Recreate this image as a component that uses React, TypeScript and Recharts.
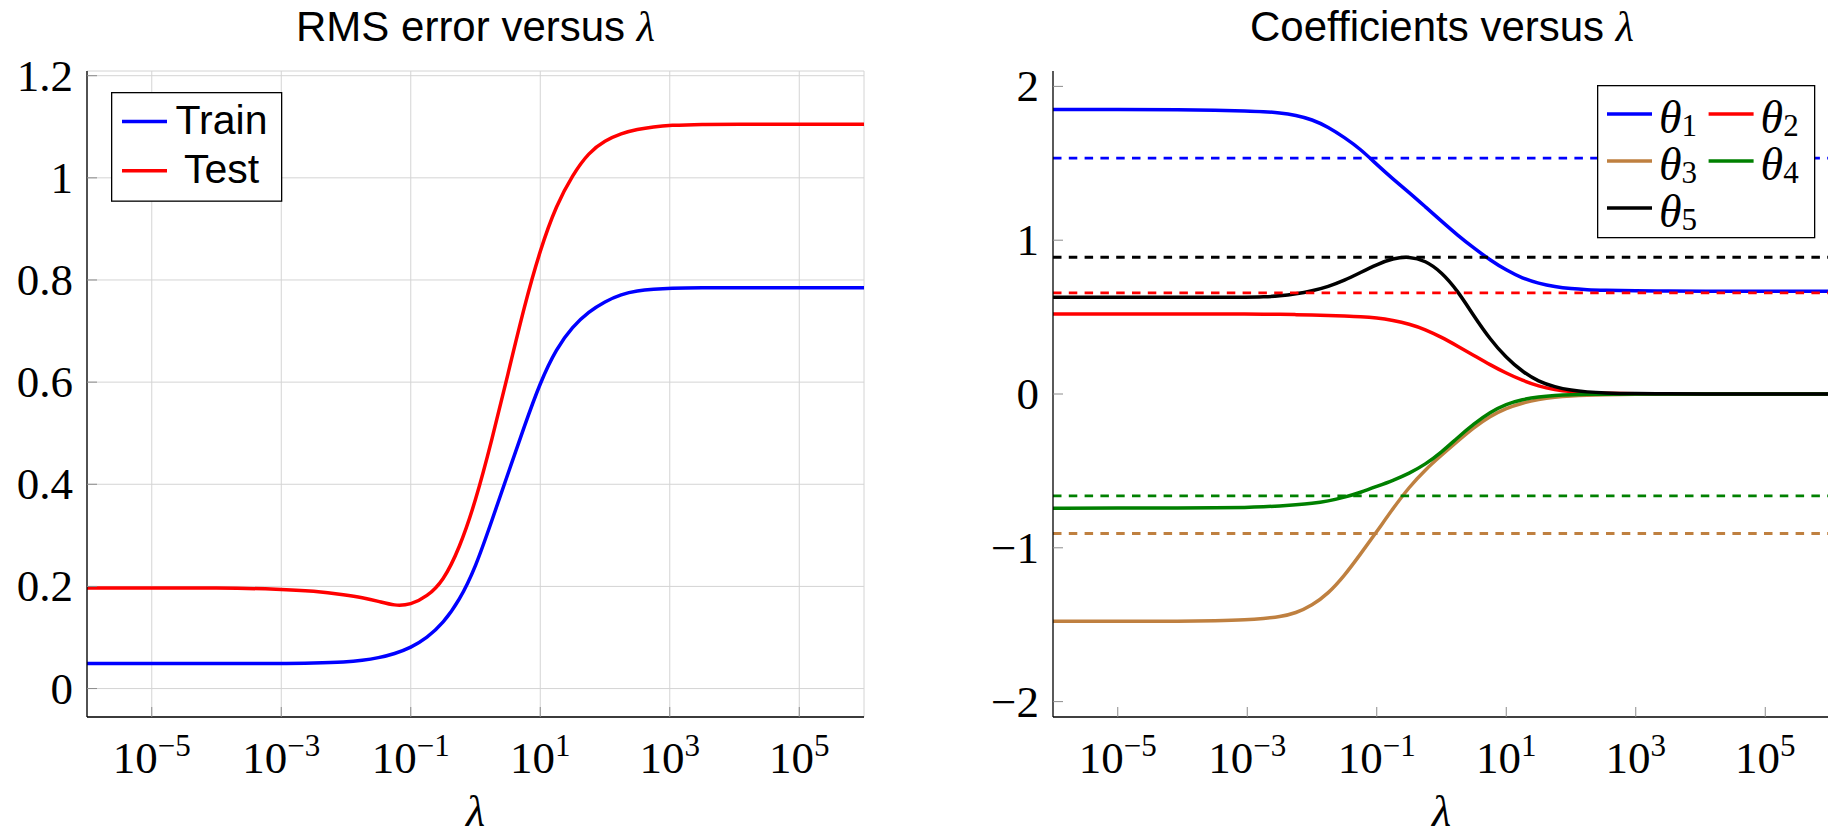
import React from 'react';
import { LineChart, Line, XAxis, YAxis, CartesianGrid, ReferenceLine, Legend, Label } from 'recharts';

// ---------- data: RMS error versus lambda (x = log10 lambda) ----------
const rmsLambdaExp = [-6, -5, -4, -3, -2.5, -2, -1.75, -1.5, -1.25, -1, -0.75, -0.5, -0.25, 0, 0.25, 0.5, 0.75, 1, 1.25, 1.5, 1.75, 2, 2.25, 2.5, 2.75, 3, 3.5, 4, 5, 6];
const trainRms = [0.049, 0.049, 0.049, 0.049, 0.05, 0.052, 0.055, 0.06, 0.068, 0.08, 0.099, 0.128, 0.172, 0.237, 0.328, 0.42, 0.512, 0.6, 0.666, 0.709, 0.738, 0.758, 0.772, 0.779, 0.782, 0.784, 0.785, 0.785, 0.785, 0.785];
const testRms = [0.197, 0.197, 0.197, 0.195, 0.191, 0.183, 0.178, 0.171, 0.162, 0.164, 0.18, 0.21, 0.274, 0.366, 0.485, 0.615, 0.747, 0.86, 0.947, 1.006, 1.05, 1.073, 1.087, 1.095, 1.1, 1.103, 1.105, 1.105, 1.105, 1.105];

// ---------- data: coefficients versus lambda (x = log10 lambda) ----------
const coefLambdaExp = [-6, -5, -4, -3.5, -3, -2.75, -2.5, -2.25, -2, -1.75, -1.5, -1.25, -1, -0.75, -0.5, -0.25, 0, 0.25, 0.5, 0.75, 1, 1.25, 1.5, 1.75, 2, 2.25, 2.5, 3, 3.5, 4, 5, 6];
const theta1 = [1.85, 1.85, 1.849, 1.846, 1.84, 1.836, 1.829, 1.813, 1.785, 1.736, 1.668, 1.592, 1.492, 1.398, 1.31, 1.217, 1.124, 1.032, 0.949, 0.871, 0.805, 0.752, 0.719, 0.697, 0.684, 0.678, 0.675, 0.671, 0.669, 0.668, 0.668, 0.668];
const theta2 = [0.52, 0.52, 0.52, 0.52, 0.52, 0.519, 0.518, 0.516, 0.514, 0.511, 0.507, 0.503, 0.495, 0.479, 0.456, 0.42, 0.369, 0.311, 0.251, 0.19, 0.135, 0.088, 0.05, 0.028, 0.015, 0.008, 0.004, 0.001, 0, 0, 0, 0];
const theta3 = [-1.478, -1.478, -1.477, -1.474, -1.468, -1.46, -1.449, -1.425, -1.375, -1.298, -1.182, -1.04, -0.895, -0.745, -0.605, -0.492, -0.398, -0.307, -0.218, -0.145, -0.092, -0.058, -0.035, -0.021, -0.013, -0.008, -0.005, -0.002, -0.001, 0, 0, 0];
const theta4 = [-0.742, -0.742, -0.741, -0.74, -0.738, -0.734, -0.728, -0.721, -0.712, -0.696, -0.672, -0.64, -0.601, -0.562, -0.516, -0.458, -0.379, -0.283, -0.194, -0.118, -0.065, -0.035, -0.018, -0.009, -0.004, -0.002, -0.001, 0, 0, 0, 0, 0];
const theta5 = [0.629, 0.629, 0.629, 0.629, 0.629, 0.631, 0.637, 0.65, 0.67, 0.698, 0.738, 0.79, 0.842, 0.882, 0.894, 0.868, 0.793, 0.671, 0.507, 0.356, 0.235, 0.145, 0.081, 0.046, 0.024, 0.013, 0.007, 0.002, 0.001, 0, 0, 0];
// dashed horizontal reference levels (one per coefficient)
const referenceCoefs = [1.533, 0.657, -0.907, -0.662, 0.889];

// ---------- axes ----------
const xTicks = [1e-5, 1e-3, 1e-1, 1e1, 1e3, 1e5];
const xDomain = [1e-6, 1e6];
const rmsTicks = [0, 0.2, 0.4, 0.6, 0.8, 1, 1.2];
const rmsDomain = [-0.0557, 1.2092];
const coefTicks = [-2, -1, 0, 1, 2];
const coefDomain = [-2.1, 2.1];

const rmsNames = ['Train', 'Test'];
const thetaNames = ['θ1', 'θ2', 'θ3', 'θ4', 'θ5'];
const thetaColors = ['#0000ff', '#ff0000', '#bf8040', '#008000', '#000000'];
const thetaKeys = ['t1', 't2', 't3', 't4', 't5'];
const thetaSeries = [theta1, theta2, theta3, theta4, theta5];

const rmsData = rmsLambdaExp.map((e, i) => ({ lambda: Math.pow(10, e), train: trainRms[i], test: testRms[i] }));
const coefData = coefLambdaExp.map((e, i) => {
  const row: any = { lambda: Math.pow(10, e) };
  thetaKeys.forEach((k, j) => { row[k] = thetaSeries[j][i]; });
  return row;
});

const SERIF = "'Liberation Serif', 'Times New Roman', serif";
const SANS = "'Liberation Sans', Arial, Helvetica, sans-serif";
const TICK_COLOR = '#8c8c8c';
const LINE_W = 3.5;
const CURVE = 'basis';

const BottomLogTick = (props: any) => {
  const { x, y, payload } = props;
  const exp = Math.round(Math.log10(payload.value));
  const sup = exp < 0 ? '\u2212' + Math.abs(exp) : String(exp);
  return (
    <g>
      <line x1={x} x2={x} y1={y} y2={y - 10} stroke={TICK_COLOR} strokeWidth={1} />
      <text x={x} y={y + 56} textAnchor="middle" fontFamily={SERIF} fontSize={45} fill="#000">
        10<tspan dy={-17} fontSize={31}>{sup}</tspan>
      </text>
    </g>
  );
};

const TopTick = (props: any) => {
  const { x, y } = props;
  return <line x1={x} x2={x} y1={y} y2={y + 10} stroke={TICK_COLOR} strokeWidth={1} />;
};

const RightTick = (props: any) => {
  const { x, y } = props;
  return <line x1={x} x2={x - 10} y1={y} y2={y} stroke={TICK_COLOR} strokeWidth={1} />;
};

const makeLeftTick = (fmt: (v: number) => string) => (props: any) => {
  const { x, y, payload } = props;
  return (
    <g>
      <line x1={x} x2={x + 10} y1={y} y2={y} stroke={TICK_COLOR} strokeWidth={1} />
      <text x={x - 14} y={y + 15} textAnchor="end" fontFamily={SERIF} fontSize={45} fill="#000">
        {fmt(payload.value)}
      </text>
    </g>
  );
};

const rmsFmt = (v: number) => String(Math.round(v * 10) / 10);
const coefFmt = (v: number) => (v < 0 ? '\u2212' + Math.abs(v) : String(v));

const LambdaLabel = (props: any) => {
  const vb = props.viewBox || {};
  return (
    <text x={vb.x + vb.width / 2} y={vb.y + 109} textAnchor="middle" fontFamily={SERIF} fontStyle="italic" fontSize={44} fill="#000">
      λ
    </text>
  );
};

const RmsLegend = (props: any) => {
  const items = props.payload || [];
  return (
    <svg width={172} height={110} style={{ display: 'block' }}>
      <rect x={0.65} y={0.65} width={170} height={108.5} fill="#fff" stroke="#000" strokeWidth={1.3} />
      {items.map((it: any, i: number) => (
        <g key={i}>
          <line x1={11} x2={56} y1={29.5 + i * 49.3} y2={29.5 + i * 49.3} stroke={it.color} strokeWidth={LINE_W} />
          <text x={110.5} y={41.8 + i * 49.3} textAnchor="middle" fontFamily={SANS} fontSize={41} fill="#000">
            {it.value}
          </text>
        </g>
      ))}
    </svg>
  );
};

const CoefLegend = (props: any) => {
  const items = props.payload || [];
  return (
    <svg width={219} height={154} style={{ display: 'block' }}>
      <rect x={0.65} y={0.65} width={217} height={152} fill="#fff" stroke="#000" strokeWidth={1.3} />
      {items.map((it: any, i: number) => {
        const col = i % 2;
        const row = Math.floor(i / 2);
        const lx = 10 + col * 101.6;
        const ly = 29 + row * 47;
        const name = String(it.value);
        return (
          <g key={i}>
            <line x1={lx} x2={lx + 45} y1={ly} y2={ly} stroke={it.color} strokeWidth={LINE_W} />
            <text x={lx + 52} y={ly + 18.5} fontFamily={SERIF} fontSize={46} fill="#000">
              <tspan fontStyle="italic">{name.slice(0, 1)}</tspan>
              <tspan fontSize={31} dy={3}>{name.slice(1)}</tspan>
            </text>
          </g>
        );
      })}
    </svg>
  );
};

const CHART_W = 900;
const CHART_H = 836;
const MARGIN = { top: 71, right: 36, bottom: 0, left: 0 };

const axisLineStyle = { stroke: '#000', strokeWidth: 1.3 };

function renderAxes(yDomain: number[], yTicks: number[], fmt: (v: number) => string) {
  return [
    <XAxis
      key="xb"
      dataKey="lambda"
      type="number"
      scale="log"
      domain={xDomain}
      ticks={xTicks}
      interval={0}
      allowDataOverflow
      height={119}
      tickLine={false}
      tickSize={0}
      tickMargin={0}
      axisLine={axisLineStyle}
      tick={<BottomLogTick />}
      label={<Label content={<LambdaLabel />} />}
    />,
    <XAxis
      key="xt"
      xAxisId="top"
      orientation="top"
      dataKey="lambda"
      type="number"
      scale="log"
      domain={xDomain}
      ticks={xTicks}
      interval={0}
      allowDataOverflow
      height={0}
      tickLine={false}
      tickSize={0}
      tickMargin={0}
      axisLine={axisLineStyle}
      tick={<TopTick />}
    />,
    <YAxis
      key="yl"
      type="number"
      domain={yDomain}
      ticks={yTicks}
      interval={0}
      allowDataOverflow
      width={87}
      tickLine={false}
      tickSize={0}
      tickMargin={0}
      axisLine={axisLineStyle}
      tick={makeLeftTick(fmt)}
    />,
    <YAxis
      key="yr"
      yAxisId="right"
      orientation="right"
      type="number"
      domain={yDomain}
      ticks={yTicks}
      interval={0}
      allowDataOverflow
      width={0}
      tickLine={false}
      tickSize={0}
      tickMargin={0}
      axisLine={axisLineStyle}
      tick={<RightTick />}
    />,
  ];
}

function RmsChart() {
  return (
    <LineChart width={CHART_W} height={CHART_H} data={rmsData} margin={MARGIN}>
      <CartesianGrid stroke="#d4d4d4" strokeWidth={1} />
      {renderAxes(rmsDomain, rmsTicks, rmsFmt)}
      <Line type={CURVE} dataKey="train" name={rmsNames[0]} stroke="#0000ff" strokeWidth={LINE_W} dot={false} activeDot={false} isAnimationActive={false} />
      <Line type={CURVE} dataKey="test" name={rmsNames[1]} stroke="#ff0000" strokeWidth={LINE_W} dot={false} activeDot={false} isAnimationActive={false} />
      <Legend
        layout="vertical"
        align="center"
        verticalAlign="middle"
        itemSorter={(item: any) => rmsNames.indexOf(String(item.value))}
        content={<RmsLegend />}
        wrapperStyle={{ position: 'absolute', left: 110.5, top: 91.5, width: 172, height: 110 }}
      />
    </LineChart>
  );
}

function CoefChart() {
  return (
    <LineChart width={CHART_W} height={CHART_H} data={coefData} margin={MARGIN}>
      {renderAxes(coefDomain, coefTicks, coefFmt)}
      {thetaKeys.map((k, j) => (
        <Line
          key={k}
          type={CURVE}
          dataKey={k}
          name={thetaNames[j]}
          stroke={thetaColors[j]}
          strokeWidth={LINE_W}
          dot={false}
          activeDot={false}
          isAnimationActive={false}
        />
      ))}
      {referenceCoefs.map((v, j) => (
        <ReferenceLine key={'r' + j} y={v} stroke={thetaColors[j]} strokeWidth={2.8} strokeDasharray="8.5 7.3" />
      ))}
      <Legend
        layout="vertical"
        align="center"
        verticalAlign="middle"
        itemSorter={(item: any) => thetaNames.indexOf(String(item.value))}
        content={<CoefLegend />}
        wrapperStyle={{ position: 'absolute', left: 630.5, top: 84.5, width: 219, height: 154 }}
      />
    </LineChart>
  );
}

export default function App() {
  return (
    <div style={{ position: 'fixed', left: 0, top: 0, width: 1828, height: 836, overflow: 'hidden', background: '#fff' }}>
      <div style={{ position: 'absolute', left: 0, top: 0 }}>
        <RmsChart />
      </div>
      <div style={{ position: 'absolute', left: 966, top: 0 }}>
        <CoefChart />
      </div>
      <svg width={1828} height={836} style={{ position: 'absolute', left: 0, top: 0, pointerEvents: 'none' }}>
        <text x={475.5} y={41} textAnchor="middle" fontFamily={SANS} fontSize={42} fill="#000">
          RMS error versus <tspan fontFamily={SERIF} fontStyle="italic" fontSize={42}>λ</tspan>
        </text>
        <text x={1442} y={41} textAnchor="middle" fontFamily={SANS} fontSize={42} fill="#000">
          Coefficients versus <tspan fontFamily={SERIF} fontStyle="italic" fontSize={42}>λ</tspan>
        </text>
      </svg>
    </div>
  );
}
